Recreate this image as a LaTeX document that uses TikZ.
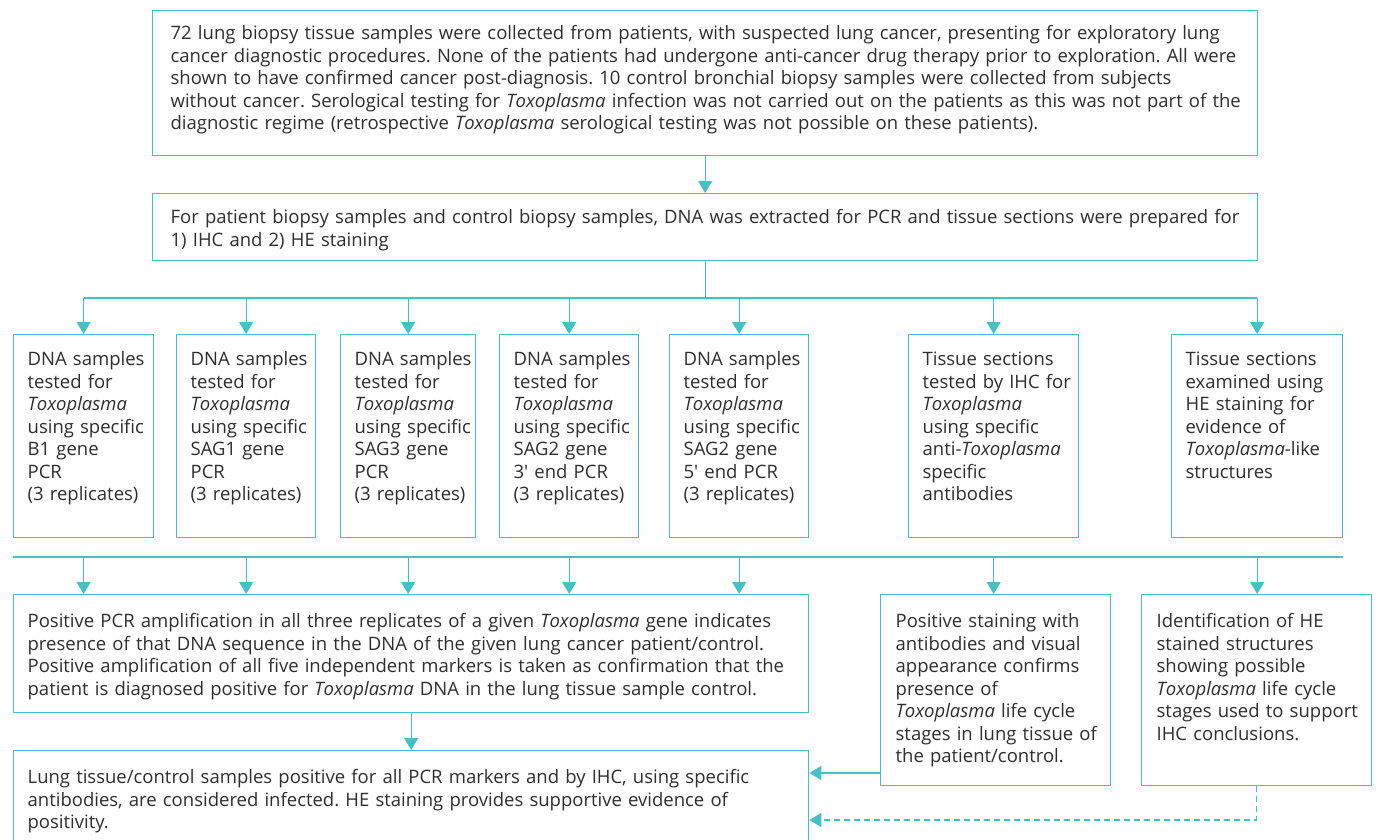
\documentclass[tikz,border=0pt]{standalone}
\usepackage{fontspec}
\setmainfont{Open Sans}
\usetikzlibrary{arrows.meta}
\definecolor{flowteal}{HTML}{45C1C5}
\definecolor{flowtext}{HTML}{2E2E2E}
\newcommand{\boxlines}[1]{\begin{tabular}[t]{@{}l@{}}#1\end{tabular}}
\newcommand{\toxo}{\textit{Toxoplasma}}
\frenchspacing

\begin{document}
\begin{tikzpicture}[x=1pt,y=-1pt,
    flow/.style={draw=flowteal, line width=1.3pt, text=flowtext, anchor=north west,
      inner ysep=0pt, align=left, font=\fontsize{18.5}{22.5}\selectfont},
    link/.style={draw=flowteal, line width=1.3pt},
    arr/.style={link, -{Triangle[width=14pt,length=12pt]}}]

    % Fix the page to the reference size
    \clip (0,0) rectangle (1381,840);

    % Define the first two boxes
    \node[flow, inner xsep=18pt, text width=1069pt, text height=29pt, text depth=116pt] (intro) at (152,10)
      {\boxlines{72 lung biopsy tissue samples were collected from patients, with suspected lung cancer, presenting for exploratory lung\\
      cancer diagnostic procedures. None of the patients had undergone anti-cancer drug therapy prior to exploration. All were\\
      shown to have confirmed cancer post-diagnosis. 10 control bronchial biopsy samples were collected from subjects\\
      without cancer. Serological testing for \toxo{} infection was not carried out on the patients as this was not part of the\\
      diagnostic regime (retrospective \toxo{} serological testing was not possible on these patients).}};
    \node[flow, inner xsep=18pt, text width=1069pt, text height=30pt, text depth=37pt] (prep) at (152,193)
      {\boxlines{For patient biopsy samples and control biopsy samples, DNA was extracted for PCR and tissue sections were prepared for\\
      1) IHC and 2) HE staining}};

    % Define the row of test boxes
    \tikzset{testrow/.style={flow, inner xsep=14pt, text height=31pt, text depth=172pt}}
    \node[testrow, text width=112pt] (dna1) at (13,334)
      {\boxlines{DNA samples\\tested for\\\toxo\\using specific\\B1 gene\\PCR\\(3 replicates)}};
    \node[testrow, text width=111pt] (dna2) at (176,334)
      {\boxlines{DNA samples\\tested for\\\toxo\\using specific\\SAG1 gene\\PCR\\(3 replicates)}};
    \node[testrow, text width=107pt] (dna3) at (340,334)
      {\boxlines{DNA samples\\tested for\\\toxo\\using specific\\SAG3 gene\\PCR\\(3 replicates)}};
    \node[testrow, text width=111pt] (dna4) at (499,334)
      {\boxlines{DNA samples\\tested for\\\toxo\\using specific\\SAG2 gene\\3\textquotesingle{} end PCR\\(3 replicates)}};
    \node[testrow, text width=111pt] (dna5) at (669,334)
      {\boxlines{DNA samples\\tested for\\\toxo\\using specific\\SAG2 gene\\5\textquotesingle{} end PCR\\(3 replicates)}};
    \node[testrow, text width=142pt] (ihc) at (908,334)
      {\boxlines{Tissue sections\\tested by IHC for\\\toxo\\using specific\\anti-\toxo\\specific\\antibodies}};
    \node[testrow, text width=143pt] (hestain) at (1171,334)
      {\boxlines{Tissue sections\\examined using\\HE staining for\\evidence of\\\toxo-like\\structures}};

    % Define the result boxes
    \node[flow, inner xsep=14pt, text width=767pt, text height=33pt, text depth=85pt] (pcrres) at (13,594)
      {\boxlines{Positive PCR amplification in all three replicates of a given \toxo{} gene indicates\\
      presence of that DNA sequence in the DNA of the given lung cancer patient/control.\\
      Positive amplification of all five independent markers is taken as confirmation that the\\
      patient is diagnosed positive for \toxo{} DNA in the lung tissue sample control.}};
    \node[flow, inner xsep=15pt, text width=200pt, text height=33pt, text depth=158pt] (ihcres) at (880,594)
      {\boxlines{Positive staining with\\antibodies and visual\\appearance confirms\\presence of\\\toxo{} life cycle\\stages in lung tissue of\\the patient/control.}};
    \node[flow, inner xsep=15pt, text width=200pt, text height=33pt, text depth=158pt] (heres) at (1141,594)
      {\boxlines{Identification of HE\\stained structures\\showing possible\\\toxo{} life cycle\\stages used to support\\IHC conclusions.}};
    \node[flow, inner xsep=14pt, text width=767pt, text height=33pt, text depth=67pt] (final) at (13,750)
      {\boxlines{Lung tissue/control samples positive for all PCR markers and by IHC, using specific\\
      antibodies, are considered infected. HE staining provides supportive evidence of\\
      positivity.}};

    % Define the bus lines
    \coordinate (busA) at (0,298);
    \coordinate (busB) at (0,557);
    \coordinate (ihcjoin) at (0,773);
    \coordinate (hejoin) at (0,820);

    % Connect the boxes
    \draw[arr] (intro.south) -- (prep.north);
    \draw[link] (prep.south) -- (prep.south |- busA);
    \draw[link] (dna1.north |- busA) -- (hestain.north |- busA);
    \foreach \n in {dna1,dna2,dna3,dna4,dna5,ihc,hestain}
      \draw[arr] (\n.north |- busA) -- (\n.north);
    \draw[link] (dna1.south west |- busB) -- (hestain.south east |- busB);
    \foreach \n in {dna1,dna2,dna3,dna4,dna5}
      \draw[arr] (\n.south |- busB) -- (\n.south |- pcrres.north);
    \draw[arr] (ihc.south |- busB) -- (ihc.south |- ihcres.north);
    \draw[arr] (hestain.south |- busB) -- (hestain.south |- heres.north);
    \draw[arr] (pcrres.south) -- (final.north);
    \draw[arr] (ihcres.west |- ihcjoin) -- (final.east |- ihcjoin);
    \draw[arr, dash pattern=on 6pt off 4pt] (heres.south) -- (heres.south |- hejoin) -- (final.east |- hejoin);

\end{tikzpicture}
\end{document}
